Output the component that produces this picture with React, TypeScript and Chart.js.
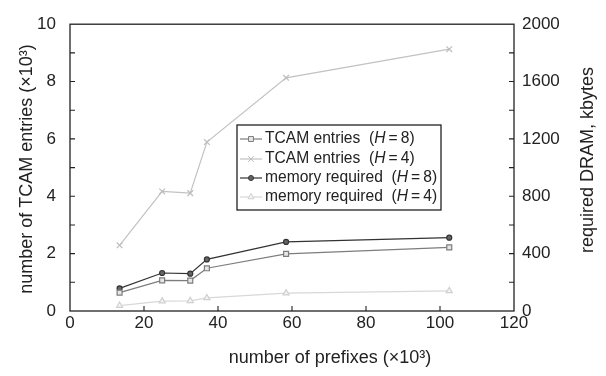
import React, { useEffect, useRef } from 'react';
import { Chart, registerables } from 'chart.js';

Chart.register(...registerables);

const prefixes = [13.4, 24.9, 32.5, 37.0, 58.4, 102.5];
const tcamH8 = [0.64, 1.07, 1.06, 1.49, 1.99, 2.22];
const tcamH4 = [2.29, 4.17, 4.11, 5.89, 8.13, 9.13];
const memH8 = [158, 265, 260, 360, 482, 511];
const memH4 = [38, 69, 71, 91, 125, 140];
const seriesNames = ['TCAM entries', 'TCAM entries', 'memory required', 'memory required'];
const hValues = [8, 4, 8, 4];
const xTitle = 'number of prefixes (×10³)';
const yLeftTitle = 'number of TCAM entries (×10³)';
const yRightTitle = 'required DRAM, kbytes';

const FONT = '"Liberation Sans", Arial, Helvetica, sans-serif';

const toPts = (ys: number[]) => ys.map((y, i) => ({ x: prefixes[i], y }));

function drawMarker(ctx: CanvasRenderingContext2D, style: string, x: number, y: number, r: number, stroke: string, fill: string) {
  ctx.save();
  ctx.strokeStyle = stroke;
  ctx.fillStyle = fill;
  ctx.lineWidth = 1;
  ctx.beginPath();
  if (style === 'rect') {
    const s = r * Math.SQRT1_2;
    ctx.rect(x - s, y - s, 2 * s, 2 * s);
    ctx.fill();
    ctx.stroke();
  } else if (style === 'crossRot') {
    const s = r * Math.SQRT1_2;
    ctx.moveTo(x - s, y - s); ctx.lineTo(x + s, y + s);
    ctx.moveTo(x - s, y + s); ctx.lineTo(x + s, y - s);
    ctx.stroke();
  } else if (style === 'circle') {
    ctx.arc(x, y, r, 0, Math.PI * 2);
    ctx.fill();
    ctx.stroke();
  } else if (style === 'triangle') {
    ctx.moveTo(x, y - r);
    ctx.lineTo(x + r * 0.866, y + r * 0.5);
    ctx.lineTo(x - r * 0.866, y + r * 0.5);
    ctx.closePath();
    ctx.fill();
    ctx.stroke();
  }
  ctx.restore();
}

const framePlugin = {
  id: 'frameTicks',
  afterDatasetsDraw(chart: any) {
    const { ctx, chartArea: ca, scales } = chart;
    ctx.save();
    ctx.strokeStyle = '#222';
    ctx.lineWidth = 1.3;
    ctx.strokeRect(ca.left, ca.top, ca.right - ca.left, ca.bottom - ca.top);
    ctx.lineWidth = 1.1;
    ctx.beginPath();
    const TL = 5;
    for (let v = 1; v < 10; v++) {
      const y = scales.y.getPixelForValue(v);
      ctx.moveTo(ca.left, y); ctx.lineTo(ca.left + TL, y);
    }
    for (let v = 200; v < 2000; v += 200) {
      const y = scales.y2.getPixelForValue(v);
      ctx.moveTo(ca.right, y); ctx.lineTo(ca.right - TL, y);
    }
    for (let v = 20; v < 120; v += 20) {
      const x = scales.x.getPixelForValue(v);
      ctx.moveTo(x, ca.bottom); ctx.lineTo(x, ca.bottom - TL);
    }
    ctx.stroke();

    // axis titles
    ctx.fillStyle = '#222';
    ctx.font = `18px ${FONT}`;
    ctx.textAlign = 'center';
    ctx.textBaseline = 'middle';
    ctx.fillText(xTitle, 330, 358);
    ctx.save();
    ctx.translate(27, 169);
    ctx.rotate(-Math.PI / 2);
    ctx.fillText(yLeftTitle, 0, 0);
    ctx.restore();
    ctx.save();
    ctx.translate(588, 160);
    ctx.rotate(-Math.PI / 2);
    ctx.fillText(yRightTitle, 0, 0);
    ctx.restore();

    // legend
    const bx = 237, by = 125, bw = 204, bh = 85;
    ctx.fillStyle = '#fff';
    ctx.fillRect(bx, by, bw, bh);
    ctx.strokeStyle = '#222';
    ctx.lineWidth = 1.3;
    ctx.strokeRect(bx, by, bw, bh);
    const rowY = [139, 159, 178, 197];
    chart.data.datasets.forEach((ds: any, i: number) => {
      const y = rowY[i];
      ctx.strokeStyle = ds.borderColor;
      ctx.lineWidth = 1.2;
      ctx.beginPath();
      ctx.moveTo(bx + 3, y); ctx.lineTo(bx + 25, y);
      ctx.stroke();
      drawMarker(ctx, ds.pointStyle, bx + 14, y, ds.pointRadius, ds.pointBorderColor, ds.pointBackgroundColor);
      ctx.fillStyle = '#222';
      ctx.textAlign = 'left';
      ctx.textBaseline = 'middle';
      let x = bx + 28;
      const normal = `15.6px ${FONT}`;
      const italic = `italic 15.6px ${FONT}`;
      const parts: [string, string][] = [
        [seriesNames[i] + '  (', normal],
        ['H', italic],
        ['\u2009=\u2009', normal],
        [hValues[i] + ')', normal],
      ];
      parts.forEach(([t, f]) => {
        ctx.font = f;
        ctx.fillText(t, x, y);
        x += ctx.measureText(t).width;
      });
    });
    ctx.restore();
  },
};

export default function App() {
  const ref = useRef<HTMLCanvasElement | null>(null);
  useEffect(() => {
    document.body.style.margin = '0';
    const canvas = ref.current!;
    const tickFont = { family: FONT, size: 17 };
    const chart = new Chart(canvas, {
      type: 'line',
      data: {
        datasets: [
          {
            label: seriesNames[0], data: toPts(tcamH8), yAxisID: 'y',
            borderColor: '#7d7d7d', pointStyle: 'rect', pointRadius: 3.5,
            pointBorderColor: '#7d7d7d', pointBackgroundColor: '#e6e6e6', borderWidth: 1.2,
          },
          {
            label: seriesNames[1], data: toPts(tcamH4), yAxisID: 'y',
            borderColor: '#c2c2c2', pointStyle: 'crossRot', pointRadius: 4,
            pointBorderColor: '#bdbdbd', pointBackgroundColor: '#bdbdbd', borderWidth: 1.2,
          },
          {
            label: seriesNames[2], data: toPts(memH8), yAxisID: 'y2',
            borderColor: '#333333', pointStyle: 'circle', pointRadius: 2.5,
            pointBorderColor: '#333333', pointBackgroundColor: '#666666', borderWidth: 1.2,
          },
          {
            label: seriesNames[3], data: toPts(memH4), yAxisID: 'y2',
            borderColor: '#d8d8d8', pointStyle: 'triangle', pointRadius: 3.5,
            pointBorderColor: '#d0d0d0', pointBackgroundColor: '#f4f4f4', borderWidth: 1.2,
          },
        ] as any,
      },
      options: {
        responsive: false,
        animation: false,
        devicePixelRatio: 1,
        layout: { padding: { top: 11, left: 0, right: 0, bottom: 0 } },
        plugins: { legend: { display: false }, tooltip: { enabled: false } },
        elements: { line: { tension: 0 } },
        scales: {
          x: {
            type: 'linear', min: 0, max: 120,
            ticks: { stepSize: 20, padding: 2, color: '#222', font: tickFont, maxRotation: 0 },
            grid: { display: false, drawTicks: false },
            border: { display: false },
            afterFit: (s: any) => { s.height = 65; },
          },
          y: {
            type: 'linear', position: 'left', min: 0, max: 10,
            ticks: { stepSize: 2, padding: 14, color: '#222', font: tickFont },
            grid: { display: false, drawTicks: false },
            border: { display: false },
            afterFit: (s: any) => { s.width = 70; },
          },
          y2: {
            type: 'linear', position: 'right', min: 0, max: 2000,
            ticks: { stepSize: 400, padding: 8, color: '#222', font: tickFont, callback: (v: any) => String(v) },
            grid: { display: false, drawTicks: false },
            border: { display: false },
            afterFit: (s: any) => { s.width = 92; },
          },
        },
      } as any,
      plugins: [framePlugin],
    });
    return () => chart.destroy();
  }, []);
  return (
    <div style={{ width: 606, height: 376 }}>
      <canvas ref={ref} width={606} height={376} style={{ display: 'block' }} />
    </div>
  );
}
